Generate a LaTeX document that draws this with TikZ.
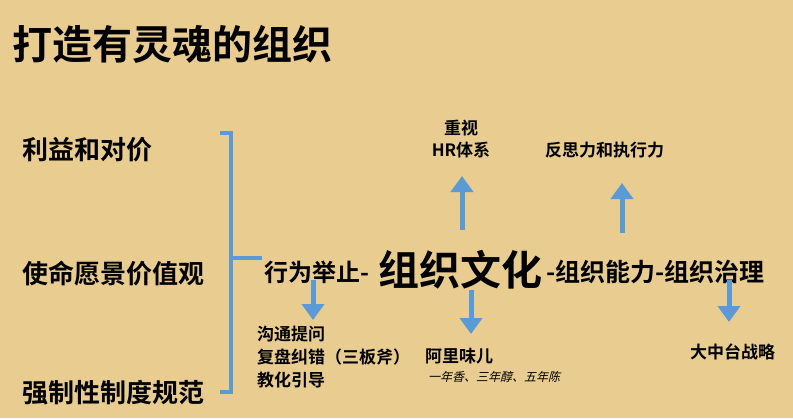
\documentclass[tikz,border=0pt]{standalone}
\usepackage{fontspec}
\setmainfont{Noto Sans CJK SC}[BoldFont={Noto Sans CJK SC Bold},AutoFakeSlant=0.25]
\usetikzlibrary{arrows.meta}
\definecolor{bg}{HTML}{E9CC90}
\definecolor{ab}{HTML}{5B9BD5}
\begin{document}
\begin{tikzpicture}[x=1pt,y=-1pt,
  t/.style={inner sep=0pt,anchor=west,font=\bfseries\fontsize{#1}{#1}\selectfont},
  up/.style={draw=ab,line width=5pt,-{Triangle[length=16pt,width=22pt]}}]
\fill[bg] (0,0) rectangle (793,418);
\useasboundingbox (0,0) rectangle (793,418);
\node[t=40] (title) at (12,44) {打造有灵魂的组织};
\node[t=26] (a) at (22,150) {利益和对价};
\node[t=26] (b) at (22,274) {使命愿景价值观};
\node[t=26] (c) at (22,393) {强制性制度规范};
\draw[ab,line width=3.5pt] (220,133) -- (231,133) -- (231,392) -- (220,392);
\draw[ab,line width=3.5pt] (231,258) -- (262,258);
\node[t=24] (m1) at (264,272) {行为举止-};
\node[t=41] (m2) at (378,270) {组织文化};
\node[t=25] (m3) at (546,272) {-组织能力-组织治理};
\coordinate (u1s) at (462,230); \coordinate (u1e) at (462,176);
\coordinate (u2s) at (622,233); \coordinate (u2e) at (622,183);
\draw[up] (u1s) -- (u1e);
\draw[up] (u2s) -- (u2e);
\coordinate (d1s) at (313,280); \coordinate (d1e) at (313,320);
\coordinate (d2s) at (471,290); \coordinate (d2e) at (471,334);
\coordinate (d3s) at (729,280); \coordinate (d3e) at (729,322);
\draw[up] (d1s) -- (d1e);
\draw[up] (d2s) -- (d2e);
\draw[up] (d3s) -- (d3e);
\node[inner sep=0pt,align=center,font=\bfseries\fontsize{17}{22}\selectfont] (hr) at (461,139) {重视\\HR体系};
\node[t=17] (fs) at (545,150) {反思力和执行力};
\node[inner sep=0pt,align=left,anchor=north west,font=\bfseries\fontsize{17}{23}\selectfont] (gt) at (257,326) {沟通提问\\复盘纠错（三板斧）\\教化引导};
\node[t=17] (al) at (425,356) {阿里味儿};
\node[inner sep=0pt,anchor=west,font=\fontsize{12}{12}\selectfont\itshape] (al2) at (428,377) {一年香、三年醇、五年陈};
\node[t=17] (dz) at (690,352) {大中台战略};
\end{tikzpicture}
\end{document}
